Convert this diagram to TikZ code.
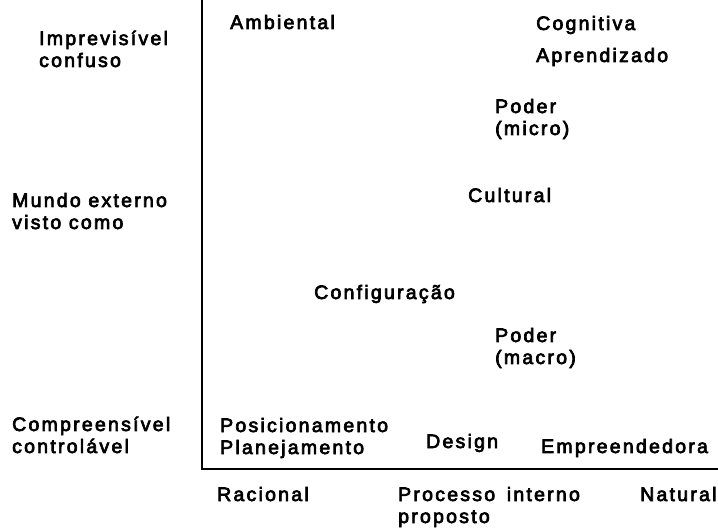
\documentclass[tikz,border=0pt]{standalone}
\usepackage{fontspec}
\setmainfont{Liberation Sans}[LetterSpace=11.5,FakeBold=3.5]
\begin{document}
\begin{tikzpicture}[x=1pt,y=-1pt,
  lbl/.style={anchor=base west,inner sep=0pt,align=left,
    font=\fontsize{19.5}{22}\selectfont},
  axis/.style={line width=2pt}]
\useasboundingbox (0,0) rectangle (718,529);
\fill[white] (0,0) rectangle (718,529);
\coordinate (top) at (202,0);
\coordinate (origin) at (202,469);
\coordinate (right) at (718,469);
\draw[axis] (top) -- (origin) -- (right);
\node[lbl] (imp) at (39,67) {Imprevisível\\confuso};
\node[lbl] (mundo) at (12,229) {Mundo externo\\visto como};
\node[lbl] (comp) at (12,453) {Compreensível\\controlável};
\node[lbl] (amb) at (230,29) {Ambiental};
\node[lbl] (cog) at (536,30) {Cognitiva};
\node[lbl] (apr) at (536,62) {Aprendizado};
\node[lbl] (pmicro) at (495,135) {Poder\\(micro)};
\node[lbl] (cult) at (468,202) {Cultural};
\node[lbl] (conf) at (314,299) {Configuração};
\node[lbl] (pmacro) at (495,364) {Poder\\(macro)};
\node[lbl] (pos) at (220,454) {Posicionamento\\Planejamento};
\node[lbl] (des) at (426,448) {Design};
\node[lbl] (emp) at (541,453) {Empreendedora};
\node[lbl] (rac) at (217,501) {Racional};
\node[lbl] (proc) at (398,523) {Processo\hspace{4pt} interno\\proposto};
\node[lbl] (nat) at (640,501) {Natural};
\end{tikzpicture}
\end{document}
